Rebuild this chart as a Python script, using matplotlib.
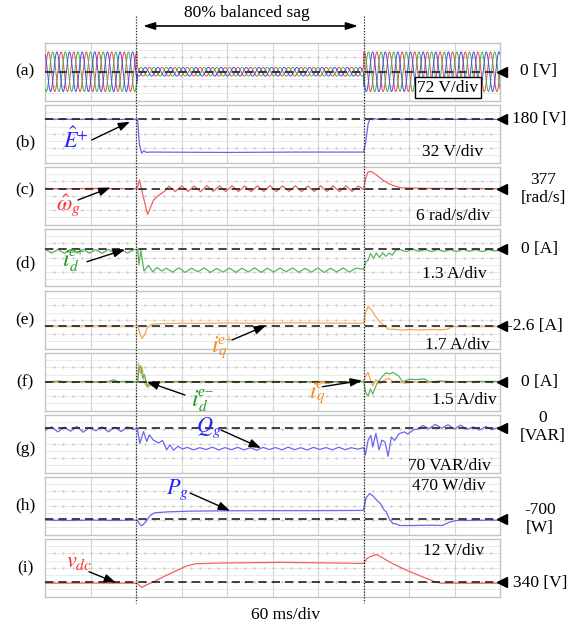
import numpy as np
import matplotlib
matplotlib.use('Agg')
import matplotlib.pyplot as plt
import matplotlib.transforms as mtransforms

plt.rcParams['font.family'] = ['Liberation Serif', 'DejaVu Serif']
plt.rcParams['mathtext.fontset'] = 'stix'

# ---------------- data (x in divisions of 60 ms, y in divisions relative to reference) -------------
panel_tags = ['(a)', '(b)', '(c)', '(d)', '(e)', '(f)', '(g)', '(h)', '(i)']
scale_labels = ['72 V/div', '32 V/div', '6 rad/s/div', '1.3 A/div', '1.7 A/div',
                '1.5 A/div', '70 VAR/div', '470 W/div', '12 V/div']
ref_labels = ['0 [V]', '180 [V]', '377\n[rad/s]', '0 [A]', '-2.6 [A]', '0 [A]',
              '0\n[VAR]', '-700\n[W]', '340 [V]']
time_label = '60 ms/div'
sag_label = '80% balanced sag'
sag_start_div = 2.0
sag_end_div = 7.0
time_per_div_ms = 60
grid_freq_hz = 60

# (a) three-phase grid voltage amplitude (div): pre-sag, sag, post-sag
va_amp_div = [2.75, 0.6, 2.75]

# (b) E^+ estimate
E_pts = [(0, 0.02), (1.0, 0.0), (2.03, 0.0), (2.07, -3.5), (2.12, -4.7), (2.17, -4.35),
         (2.22, -4.6), (2.3, -4.55), (4.0, -4.6), (5.5, -4.55), (7.0, -4.55), (7.05, -3.0),
         (7.1, -0.6), (7.14, 0.08), (7.2, 0.12), (7.3, 0.02), (8.5, 0.0), (10, 0.0)]

# (c) omega_g estimate
om_pts = [(0, 0.02), (0.5, -0.03), (1.0, 0.03), (1.5, 0.0), (2.02, 0.0), (2.07, 1.2),
          (2.13, -0.5), (2.25, -3.6), (2.38, -1.6), (2.5, -0.9), (2.62, -0.4),
          (7.0, -0.1), (7.05, 1.5), (7.1, 2.35), (7.18, 2.35), (7.3, 1.8), (7.42, 1.2),
          (7.55, 0.7), (7.67, 0.37), (7.83, 0.1), (8.5, 0.02), (10, 0.0)]
om_ripples = [(2.72, [0.35, -0.42, 0.38, -0.40, 0.36, -0.44, 0.40, -0.38, 0.37, -0.42, 0.39,
                      -0.41, 0.36, -0.43, 0.38, -0.40, 0.40, -0.42, 0.37, -0.39, 0.38, -0.43,
                      0.36, -0.41, 0.39, -0.40, 0.37, -0.42, 0.38, -0.40, 0.35])]

# (d) i_d^{e+}
d_pts = [(2.03, 0.0), (2.06, -2.1), (2.10, -0.1), (2.17, -3.0), (2.27, -2.2), (2.36, -3.1),
         (2.46, -2.5), (2.56, -3.0), (7.0, -2.75), (7.05, -1.7), (7.1, -1.5), (7.15, -0.55),
         (7.22, -1.2), (7.28, -0.5), (7.35, -1.1), (7.42, -0.45), (7.49, -0.95), (7.56, -0.5),
         (7.63, -0.8), (7.7, -0.1), (10.0, -0.1)]
d_ripples = [(0.0, [0.0, -0.5, 0.02, -0.55, 0.0, -0.5, 0.03, -0.52, 0.0, -0.55, 0.02, -0.5,
                    0.0, -0.5, 0.0]),
             (2.66, [-2.6, -3.15, -2.55, -3.2, -2.6, -3.1, -2.55, -3.2, -2.62, -3.15, -2.58,
                     -3.18, -2.6, -3.12, -2.55, -3.2, -2.6, -3.15, -2.58, -3.1, -2.55, -3.18,
                     -2.62, -3.15, -2.57, -3.2, -2.6, -3.12, -2.55, -3.15, -2.6]),
             (7.8, [0.0, -0.3, 0.05, -0.25, 0.0, -0.3, 0.02, -0.28, 0.0, -0.3, 0.05, -0.25,
                    0.0, -0.3, 0.0, -0.2])]

# (e) i_q^{e+}
e_pts = [(0, 0.05), (0.5, 0.0), (1.0, 0.06), (1.5, 0.02), (2.03, 0.05), (2.08, -1.0),
         (2.13, -1.7), (2.18, -1.2), (2.25, -0.1), (2.35, 0.3), (2.5, 0.35), (3.0, 0.42),
         (3.5, 0.4), (4.0, 0.45), (4.5, 0.42), (5.0, 0.43), (5.5, 0.47), (6.0, 0.45),
         (6.5, 0.42), (7.0, 0.42), (7.04, 1.8), (7.1, 2.75), (7.17, 2.3), (7.27, 1.3),
         (7.37, 0.5), (7.47, 0.0), (7.53, -0.4), (7.7, -0.45), (7.85, -0.55), (8.0, -0.45),
         (8.2, -0.52), (8.5, -0.45), (8.7, -0.5), (8.85, -0.4), (8.95, -0.05), (9.5, 0.02),
         (10, 0.0)]

# (f) i_d^{e-} (green) and i_q^{e-} (orange)
fd_pts = [(0, 0.0), (0.3, 0.08), (0.6, -0.05), (0.9, 0.06), (1.2, -0.08), (1.4, 0.05),
          (1.5, 0.28), (1.6, 0.02), (1.8, 0.06), (2.03, 0.0), (2.06, 1.8), (2.1, 2.2),
          (2.14, 0.5), (2.18, 1.0), (2.24, -0.6), (2.3, -0.3), (2.4, -0.7), (2.5, -0.2),
          (2.6, 0.0), (3.0, 0.05), (3.5, -0.03), (4.0, 0.05), (4.5, 0.0), (5.0, 0.06),
          (5.5, -0.02), (6.0, 0.04), (6.5, 0.0), (7.0, 0.05), (7.05, -1.5), (7.1, -2.0),
          (7.15, -1.0), (7.2, -1.7), (7.29, -0.3), (7.38, 0.5), (7.49, 1.25), (7.57, 1.1),
          (7.65, 1.3), (7.77, 0.8), (7.86, 0.0), (8.01, 0.35), (8.15, 0.3), (8.33, 0.4),
          (8.45, 0.0), (8.7, 0.1), (9.0, 0.0), (9.5, 0.05), (10, 0.05)]
fq_pts = [(0, 0.03), (0.25, -0.06), (0.5, 0.05), (0.75, -0.04), (1.0, 0.06), (1.25, -0.05),
          (1.5, 0.04), (1.75, -0.06), (2.03, 0.0), (2.05, 2.6), (2.09, 1.2), (2.13, 2.0),
          (2.18, -0.2), (2.25, -0.8), (2.32, -0.5), (2.4, -0.3), (2.5, 0.0), (3.0, -0.05),
          (3.5, 0.04), (4.0, -0.04), (4.5, 0.05), (5.0, -0.05), (5.5, 0.04), (6.0, -0.04),
          (6.5, 0.03), (7.0, 0.0), (7.04, 0.8), (7.1, 1.3), (7.15, 0.2), (7.2, -0.6),
          (7.27, 0.3), (7.35, -0.3), (7.45, 0.2), (7.55, 0.5), (7.65, 0.0), (7.75, 0.1),
          (7.9, -0.2), (8.1, 0.0), (8.4, -0.1), (8.7, 0.05), (9.0, -0.05), (9.5, 0.03),
          (10, 0.0)]

# (g) Q_g
g_pts = [(2.02, 0.0), (2.08, -2.2), (2.16, -0.55), (2.23, -1.95), (2.29, -1.0), (2.37, -1.7),
         (2.49, -2.15), (2.58, -1.8), (2.67, -3.1), (2.74, -2.4), (2.82, -3.15), (2.92, -2.6),
         (3.02, -3.0), (7.0, -2.8), (7.04, -3.8), (7.1, -1.75), (7.16, -1.1), (7.2, -2.7),
         (7.27, -0.8), (7.34, -3.1), (7.4, -1.75), (7.47, -2.0), (7.54, -4.0), (7.61, -1.3),
         (7.68, -1.8), (7.78, -0.85), (7.9, -0.6), (7.97, -0.9), (8.1, -0.3), (8.2, -0.2),
         (10.0, 0.0)]
g_ripples = [(0.0, [-0.35, 0.1, -0.6, 0.05, -0.5, 0.15, -0.65, 0.0, -0.45, 0.1, -0.6, 0.05,
                    -0.55, 0.1, -0.3]),
             (3.12, [-2.75, -3.1, -2.8, -3.05, -2.72, -3.12, -2.78, -3.08, -2.75, -3.1, -2.8,
                     -3.15, -2.75, -3.05, -2.78, -3.1, -2.72, -3.08, -2.8, -3.12, -2.75, -3.05,
                     -2.78, -3.1, -2.74, -3.08, -2.8, -3.0]),
             (8.3, [0.3, -0.15, 0.45, -0.1, 0.4, -0.2, 0.35, -0.25, 0.1, -0.35, 0.15, -0.3,
                    0.05])]

# (h) P_g
h_pts = [(0, -0.1), (0.5, -0.15), (1.0, -0.1), (1.5, -0.14), (2.02, -0.1), (2.07, -0.6),
         (2.12, -0.9), (2.2, -0.4), (2.3, 0.5), (2.4, 0.92), (2.7, 1.05), (3.2, 1.15),
         (4.0, 1.2), (5.0, 1.22), (6.0, 1.22), (7.0, 1.25), (7.05, 2.9), (7.13, 3.6),
         (7.2, 3.3), (7.3, 2.6), (7.37, 2.2), (7.45, 1.3), (7.5, 1.05), (7.57, 0.0),
         (7.64, -0.55), (7.72, -0.65), (7.8, -0.85), (8.1, -0.85), (8.5, -0.8), (8.73, -0.85),
         (8.9, -0.35), (9.04, -0.15), (10, -0.1)]

# (i) v_dc
i_pts = [(0, -0.1), (1.0, -0.08), (2.02, -0.1), (2.08, -0.5), (2.13, -0.7), (2.2, -0.4),
         (2.35, 0.0), (2.6, 0.8), (2.9, 1.7), (3.11, 2.3), (3.3, 2.6), (3.8, 2.7), (4.5, 2.75),
         (5.2, 2.8), (5.8, 2.75), (6.5, 2.7), (7.0, 2.65), (7.07, 3.3), (7.15, 3.6),
         (7.29, 3.9), (7.4, 3.5), (7.6, 2.75), (7.93, 1.75), (8.25, 0.9), (8.57, 0.1),
         (8.7, -0.1), (10, -0.1)]

# ---------------- styling / layout ----------------
W, H = 568, 625
fig = plt.figure(figsize=(W / 100, H / 100), dpi=100)
left_px, right_px = 45.3, 500.0
tops_px = [43, 105, 167, 229, 291, 353, 415, 477, 539]
height_px = 57.5
refs = [4.0, 6.0, 5.0, 5.15, 3.1, 4.0, 6.25, 2.1, 1.95]

BLUE = '#6868ee'
RED = '#f06262'
GREEN = '#5bb35b'
ORANGE = '#f5a84e'
half_period = 1.0 / (2 * grid_freq_hz * time_per_div_ms / 1000.0)


def build(pts, ripples=()):
    allp = list(pts)
    for start, vals in ripples:
        for k, v in enumerate(vals):
            allp.append((start + k * half_period, v))
    allp.sort(key=lambda p: p[0])
    return np.array([p[0] for p in allp]), np.array([p[1] for p in allp])


axes = []
for i, top in enumerate(tops_px):
    ax = fig.add_axes([left_px / W, 1 - (top + height_px) / H,
                       (right_px - left_px) / W, height_px / H])
    ax.set_xlim(0, 10)
    ax.set_ylim(0, 8)
    ax.set_xticks([])
    ax.set_yticks([])
    for s in ax.spines.values():
        s.set_color('#c4c4c4')
        s.set_linewidth(1.0)
    for xg in range(1, 10):
        ax.axvline(xg, color='#d4d4d4', lw=0.8, zorder=0)
    for yg in range(1, 8):
        ax.axhline(yg, color='#e6e6e6', lw=0.6, zorder=0)
    xd = np.arange(0.2, 10, 0.2)
    for yr in (2, 4, 6):
        ax.plot(xd, np.full_like(xd, yr), ls='none', marker='s', ms=0.6,
                color='#c8c8c8', zorder=0)
    ax.axhline(refs[i], color='#222222', lw=1.2, dashes=(5, 3), zorder=5)
    ax.plot([10.04], [refs[i]], marker='<', ms=6.5, color='k', clip_on=False, zorder=6)
    axes.append(ax)

# (a) three-phase voltages
t = np.linspace(0, 10, 4000)
amp = np.where(t < sag_start_div + 0.02, va_amp_div[0],
               np.where(t < sag_end_div, va_amp_div[1], va_amp_div[2]))
w = 2 * np.pi * grid_freq_hz * time_per_div_ms / 1000.0
for ph, col in zip([0, -2 * np.pi / 3, 2 * np.pi / 3], ['#e84a4a', '#4aae4a', '#4a4ae6']):
    axes[0].plot(t, refs[0] + amp * np.sin(w * t + ph), color=col, lw=0.7, zorder=3)

series = [
    (1, build(E_pts), BLUE),
    (2, build(om_pts, om_ripples), RED),
    (3, build(d_pts, d_ripples), GREEN),
    (4, build(e_pts), ORANGE),
    (5, build(fq_pts), ORANGE),
    (5, build(fd_pts), GREEN),
    (6, build(g_pts, g_ripples), BLUE),
    (7, build(h_pts), BLUE),
    (8, build(i_pts), RED),
]
for idx, (xs, ys), col in series:
    axes[idx].plot(xs, refs[idx] + ys, color=col, lw=0.9, zorder=3)

# overlay in pixel coordinates
ov = fig.add_axes([0, 0, 1, 1], zorder=20)
ov.set_xlim(0, W)
ov.set_ylim(H, 0)
ov.axis('off')
ov.patch.set_alpha(0)

blend = mtransforms.blended_transform_factory(axes[0].transData, ov.transData)
for xv in (sag_start_div, sag_end_div):
    ov.plot([xv, xv], [16, 603], transform=blend, color='#222222', lw=0.9,
            ls=(0, (1, 1.3)))

fs = 12.5
ov.annotate('', xy=(143, 26), xytext=(358, 26),
            arrowprops=dict(arrowstyle='<|-|>,head_length=0.7,head_width=0.22',
                            color='k', lw=1.2, shrinkA=0, shrinkB=0), )
ov.text(247, 13, sag_label, ha='center', va='center', fontsize=fs)
ov.text(286, 615, time_label, ha='center', va='center', fontsize=fs)

tag_y = [71, 142.7, 190, 263, 320, 382, 449, 505.7, 568]
for tg, yy in zip(panel_tags, tag_y):
    ov.text(25, yy, tg, ha='center', va='center', fontsize=fs)

scale_pos = [(448, 87.5), (453, 152), (453, 216.5), (454, 274), (457, 345),
             (464, 400.5), (449, 466.5), (449, 486), (454, 550.7)]
for k, (lab, (xx, yy)) in enumerate(zip(scale_labels, scale_pos)):
    if k == 0:
        ov.text(xx, yy, lab, ha='center', va='center', fontsize=fs,
                bbox=dict(boxstyle='square,pad=0.15', fc='white', ec='k', lw=1.0))
    else:
        ov.text(xx, yy, lab, ha='center', va='center', fontsize=fs)

ref_y_px = [71, 119.3, 188.7, 249.3, 326, 382.3, 427.5, 519.3, 582.7]
for k, (lab, yy) in enumerate(zip(ref_labels, ref_y_px)):
    if '\n' in lab:
        l1, l2 = lab.split('\n')
        cx = 543 if k != 7 else 540
        ov.text(cx, yy - 9, l1, ha='center', va='center', fontsize=fs)
        ov.text(cx, yy + 9, l2, ha='center', va='center', fontsize=fs)
    else:
        xs0 = {0: 520, 1: 512, 3: 521, 4: 507, 5: 521, 8: 513}[k]
        ov.text(xs0, yy, lab, ha='left', va='center', fontsize=fs)

aprops = dict(arrowstyle='-|>,head_length=0.7,head_width=0.25', color='k', lw=1.0,
              shrinkA=0, shrinkB=0)
# simple math labels
sig_labels = [
    (r'$\hat{E}^{+}$', (76, 140), '#2424ff', (91.7, 140), (130, 121.7)),
    (r'$\hat{\omega}_{g}$', (68, 205), '#ff2a2a', (78, 200), (110.5, 187.5)),
    (r'$Q_{g}$', (209, 428), '#2424ff', (221, 430), (261, 448)),
    (r'$P_{g}$', (177, 490), '#2424ff', (190, 493), (230, 510.7)),
    (r'$v_{dc}$', (79, 563), '#ff2a2a', (89, 571.7), (116, 582.7)),
]
for txt, (tx, ty), col, a0, a1 in sig_labels:
    ov.text(tx, ty, txt, ha='center', va='center', fontsize=16, color=col)
    ov.annotate('', xy=a1, xytext=a0, arrowprops=aprops)

# current labels i_x^{e±}, composed from base / superscript / subscript
cur_labels = [
    ('d', 'e+', (66, 260), '#1f9a1f', (87, 261.7), (125, 249.5)),
    ('q', 'e+', (215, 347), '#f28a1e', (232, 340), (266, 325.5)),
    ('d', 'e\u2212', (195, 400), '#1f9a1f', (185, 395), (146.7, 381.7)),
    ('q', 'e\u2212', (313, 392), '#f28a1e', (322.5, 386.7), (362, 380.5)),
]
for sub, sup, (tx, ty), col, a0, a1 in cur_labels:
    ov.text(tx, ty, r'$i$', ha='center', va='center', fontsize=17, color=col)
    ov.text(tx + 3, ty - 7, sup, ha='left', va='center', fontsize=11, color=col,
            style='italic')
    ov.text(tx + 3, ty + 6, r'$' + sub + r'$', ha='left', va='center', fontsize=11,
            color=col)
    ov.annotate('', xy=a1, xytext=a0, arrowprops=aprops)

fig.savefig('out.png', dpi=100)
